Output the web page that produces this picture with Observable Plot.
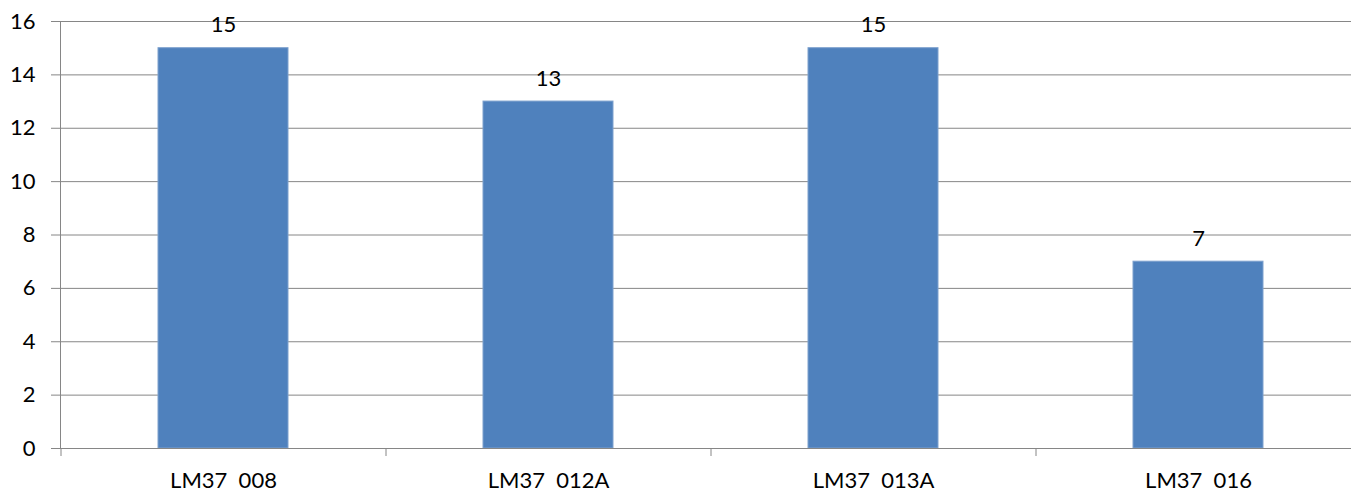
<!DOCTYPE html>
<html>
<head>
<meta charset="utf-8">
<script src="https://cdn.jsdelivr.net/npm/d3@7"></script>
<script src="https://cdn.jsdelivr.net/npm/@observablehq/plot@0.6"></script>
<style>
  html, body { margin: 0; padding: 0; background: #fff; }
  svg text { white-space: pre; }
</style>
</head>
<body>
<div id="chart"></div>
<script>
const categories = ["LM37  008", "LM37  012A", "LM37  013A", "LM37  016"];
const values = [15, 13, 15, 7];
const yTicks = [0, 2, 4, 6, 8, 10, 12, 14, 16];

const data = categories.map((c, i) => ({category: c, value: values[i]}));

const W = 1351, H = 492;
const gray = "#868686";
const font = "Lato, 'Open Sans', sans-serif";
const xRange = [60, 1360];
const step = (xRange[1] - xRange[0]) / categories.length;

const chart = Plot.plot({
  width: W,
  height: H,
  marginLeft: 60,
  marginRight: 0,
  marginTop: 21,
  marginBottom: 44,
  style: {fontFamily: font, fontSize: "22px", color: "#000", background: "#fff", overflow: "visible"},
  x: {domain: categories, range: xRange, paddingInner: 0.6, paddingOuter: 0.3, label: null},
  y: {domain: [0, 16], ticks: yTicks, label: null},
  marks: [
    Plot.gridY(yTicks, {stroke: gray, strokeOpacity: 1}),
    Plot.barY(data, {x: "category", y: "value", fill: "#4F81BD", stroke: "#7EA1CE", strokeWidth: 1}),
    Plot.text(data, {x: "category", y: "value", text: d => String(d.value), dy: -23, lineAnchor: "middle", fill: "#000", fontSize: 22}),
    Plot.axisY(yTicks, {tickSize: 9, tickPadding: 16, stroke: gray, fill: "#000", fontSize: 22, label: null}),
    Plot.axisX({tickSize: 0, tickPadding: 24, fill: "#000", fontSize: 22, label: null}),
    Plot.axisX({tickSize: 8, tickFormat: () => "", dx: -step / 2, stroke: gray, label: null}),
    Plot.frame({anchor: "left", stroke: gray}),
    Plot.ruleY([0], {stroke: gray})
  ]
});
document.getElementById("chart").appendChild(chart);
</script>
</body>
</html>
